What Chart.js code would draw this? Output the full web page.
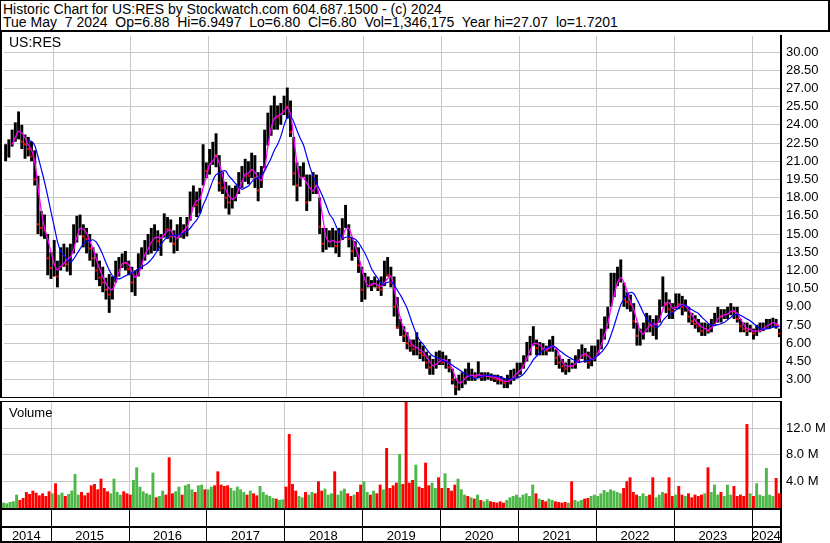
<!DOCTYPE html>
<html>
<head>
<meta charset="utf-8">
<script src="https://cdn.jsdelivr.net/npm/chart.js@4.4.1/dist/chart.umd.min.js"></script>
<style>
  body { margin: 0; background: #fff; }
  #wrap { position: relative; width: 830px; height: 543px; overflow: hidden; font-family: 'Liberation Sans', Arial, sans-serif; }
  #head { position: absolute; left: 0; top: 0; width: 830px; height: 32px; box-sizing: border-box;
          border-top: 1px solid #000; border-left: 1px solid #000; border-right: 2px solid #000; border-bottom: 2px solid #000;
          font-size: 14px; line-height: 13px; padding: 2px 0 0 2px; white-space: pre; z-index: 2; background: #fff; }
  canvas { position: absolute; left: 0; }
  .tag { position: absolute; z-index: 2; color: #000; }
</style>
</head>
<body>
<div id="wrap">
  <div id="head">Historic Chart for US:RES by Stockwatch.com 604.687.1500 - (c) 2024
Tue May  7 2024  Op=6.88  Hi=6.9497  Lo=6.80  Cl=6.80  Vol=1,346,175  Year hi=27.07  lo=1.7201</div>
  <canvas id="priceChart" width="830" height="369" style="top:32px"></canvas>
  <canvas id="volumeChart" width="830" height="142" style="top:401px"></canvas>
  <div class="tag" style="left:9px;top:34px;font-size:14px">US:RES</div>
  <div class="tag" style="left:9px;top:405px;font-size:13px">Volume</div>
</div>
<script>
// half-month periods, mid May 2014 .. early May 2024
const firstPeriod = 2014.375;
const lastPeriod = 2024.375;
const periodsPerYear = 24;

const yearTicks = [2015, 2016, 2017, 2018, 2019, 2020, 2021, 2022, 2023, 2024];
const yearLabels = ['2014', '2015', '2016', '2017', '2018', '2019', '2020', '2021', '2022', '2023', '2024'];
const priceTicks = [3, 4.5, 6, 7.5, 9, 10.5, 12, 13.5, 15, 16.5, 18, 19.5, 21, 22.5, 24, 25.5, 27, 28.5, 30];
const volumeTicks = [4, 8, 12];

const high = [
  22.4,22.8,23.6,24.2,25.1,24.0,23.2,23.0,22.6,21.9,19.8,16.9,16.6,15.0,13.5,
  14.5,12.8,13.9,14.2,13.9,14.2,15.8,16.5,16.6,15.8,15.5,15.0,13.9,13.4,12.8,12.3,11.4,11.7,11.5,12.8,13.1,13.4,13.6,12.8,
  12.3,12.0,13.4,13.9,14.5,15.0,15.5,15.8,15.3,15.0,16.7,16.4,16.2,15.3,15.8,16.4,15.8,16.4,18.5,19.0,18.5,18.8,22.4,20.9,
  22.0,22.6,23.3,21.5,20.1,19.3,19.0,18.8,19.0,20.1,20.6,21.2,21.0,21.7,21.5,20.1,20.6,23.6,25.0,25.6,26.4,25.6,25.8,26.4,
  27.07,26.0,23.0,20.9,20.6,20.9,19.9,19.9,20.1,19.9,18.0,15.5,15.5,15.3,15.5,15.3,15.5,16.3,17.4,15.8,14.7,14.4,13.9,12.3,
  11.8,11.5,11.2,11.5,11.2,11.5,12.8,13.1,12.3,11.5,9.8,8.0,7.4,6.9,6.3,6.3,6.9,6.1,5.8,5.3,5.0,4.7,5.3,5.4,
  5.3,5.0,4.7,3.9,3.1,3.4,3.6,3.9,4.4,3.9,3.6,4.5,3.6,3.6,3.6,3.5,3.4,3.4,3.3,3.1,3.4,3.8,3.9,4.4,
  4.4,5.0,6.1,6.6,7.4,6.3,6.1,6.0,5.8,6.3,6.6,5.5,5.0,4.7,4.4,4.7,4.4,5.0,5.5,5.9,5.6,5.3,5.8,5.8,
  6.3,7.2,8.2,9.0,11.8,11.8,12.3,12.9,11.0,10.2,10.0,9.3,7.7,7.2,7.7,8.5,8.3,8.0,8.3,9.6,11.5,10.2,9.6,9.3,
  10.1,10.1,9.9,9.6,9.0,8.5,8.3,8.0,7.7,7.7,7.6,8.0,8.5,9.0,8.8,8.8,9.0,9.3,9.0,9.0,8.0,7.7,7.7,7.5,
  7.2,7.5,7.7,7.7,8.0,8.0,8.1,8.0,7.2
];
const low = [
  21.0,21.3,22.2,22.6,22.8,22.0,21.2,21.4,21.0,19.0,15.0,14.8,14.6,11.6,11.3,
  11.5,10.6,12.0,12.3,11.9,11.6,13.4,14.3,14.9,13.9,13.4,12.8,12.3,11.2,10.7,10.2,9.6,8.5,9.6,11.0,11.5,12.2,12.0,11.6,
  10.2,9.9,11.5,12.1,12.8,13.3,13.4,13.6,13.6,13.2,14.7,14.6,14.3,13.4,13.6,14.7,14.6,14.8,16.1,17.2,16.4,16.7,19.0,19.6,
  19.9,20.7,20.5,18.5,18.3,17.1,16.6,17.1,17.7,18.3,18.8,19.3,19.1,19.6,18.8,17.7,18.8,20.4,22.3,23.1,23.6,23.6,24.0,24.8,
  24.5,23.0,19.0,17.7,18.9,19.7,16.9,17.7,18.3,18.3,15.0,13.5,13.7,13.9,13.9,13.4,13.1,14.5,15.5,13.9,12.8,13.1,11.8,9.4,
  9.6,10.6,10.3,10.6,10.3,9.9,10.7,11.5,10.6,8.2,7.2,6.6,6.1,5.5,5.3,5.0,5.0,4.7,4.5,3.9,3.4,3.4,3.9,4.2,
  4.2,3.9,3.6,2.6,1.72,2.1,2.3,2.6,2.9,2.9,2.9,3.1,2.9,2.9,3.0,2.9,2.8,2.6,2.6,2.3,2.3,2.6,2.9,3.1,
  3.4,3.9,4.5,5.0,5.8,5.0,5.0,5.0,5.0,5.3,5.3,4.2,3.9,3.6,3.4,3.6,3.9,3.9,4.4,4.7,4.4,3.9,4.1,4.5,
  5.0,5.5,6.3,7.2,9.0,9.8,10.7,11.0,9.0,8.8,8.6,7.2,5.8,5.8,6.3,6.9,6.9,6.6,6.3,7.7,9.0,8.5,8.0,8.0,
  8.8,8.8,8.3,8.6,7.7,7.5,7.2,6.9,6.6,6.6,6.8,6.9,7.5,7.7,7.7,8.0,8.0,8.3,8.0,7.7,6.9,6.9,6.6,6.9,
  6.3,6.6,6.9,7.0,7.2,7.2,7.3,7.2,6.5
];
const close = [
  21.8,22.3,23.0,23.6,23.8,22.6,22.4,22.0,21.4,19.5,15.8,15.5,15.3,13.0,12.2,
  12.4,11.5,13.0,13.2,12.5,13.6,15.0,15.6,15.8,14.8,14.6,13.8,13.0,12.0,11.4,11.0,10.4,10.0,10.8,12.2,12.6,12.8,12.6,12.1,
  11.0,11.2,12.8,13.2,13.9,14.2,14.8,15.0,14.4,14.6,15.8,15.4,14.8,14.2,15.0,15.6,15.2,16.0,17.6,18.2,17.4,18.0,21.0,20.2,
  21.0,21.8,21.5,19.2,18.8,18.0,17.6,18.0,18.4,19.6,19.8,20.4,19.8,20.8,19.6,18.6,20.0,22.6,24.0,24.6,25.0,24.6,25.0,25.8,
  25.5,23.4,20.0,19.0,19.8,20.2,17.6,18.6,19.4,19.0,15.6,14.2,14.4,14.4,14.6,14.0,14.4,15.6,16.2,14.6,13.6,13.6,12.4,10.4,
  10.8,11.0,10.8,11.0,10.6,10.4,12.0,11.6,11.0,9.0,7.3,7.6,6.6,6.0,5.8,5.5,5.6,5.2,5.0,4.4,4.0,4.0,4.8,4.7,
  4.4,4.6,4.0,3.0,2.4,2.8,3.2,3.4,3.3,3.4,3.2,3.6,3.2,3.3,3.3,3.2,3.1,3.0,2.9,2.7,2.9,3.3,3.5,3.8,
  4.0,4.6,5.6,5.9,6.4,5.6,5.6,5.5,5.4,5.9,6.0,4.8,4.4,4.1,3.9,4.3,4.1,4.6,5.0,5.4,5.0,4.4,4.6,5.2,
  5.8,6.6,7.6,8.6,10.6,10.8,11.6,11.8,9.6,9.4,9.2,7.8,6.6,6.6,7.0,7.8,7.6,7.4,7.6,8.8,10.0,9.2,8.8,8.6,
  9.4,9.2,9.0,9.0,8.2,7.8,7.6,7.4,7.0,7.2,7.0,7.6,8.0,8.4,8.2,8.4,8.6,8.8,8.6,8.0,7.4,7.2,7.0,7.2,
  6.8,7.0,7.2,7.4,7.6,7.6,7.8,7.5,6.8
];
// volume in millions of shares
const volume = [
  0.8,0.7,0.9,1.0,2.0,1.2,1.5,2.4,2.1,2.6,2.3,1.9,2.2,1.8,2.5,
  2.2,3.7,2.0,2.3,1.8,2.1,2.6,5.1,2.0,2.4,1.9,2.3,3.4,3.6,2.8,4.4,3.0,2.5,2.2,4.4,2.4,2.0,2.5,2.2,
  2.0,4.2,6.1,3.2,2.5,2.2,2.0,5.3,1.6,1.8,2.6,2.0,7.6,2.2,2.5,3.2,2.0,3.4,3.6,2.8,2.4,3.4,3.5,2.8,
  2.8,3.2,3.4,5.5,3.5,3.3,3.4,3.0,2.6,3.2,2.8,2.4,2.0,2.6,2.2,1.9,3.3,2.4,2.0,1.8,1.5,1.4,1.2,1.3,
  3.2,11.1,3.6,2.6,1.8,1.6,2.4,2.0,2.4,2.2,4.0,2.6,2.9,2.0,2.2,5.5,2.0,2.6,2.9,2.2,1.8,2.0,2.4,3.5,
  4.0,2.4,2.0,2.6,2.2,3.5,2.8,9.0,3.0,3.4,3.8,8.1,3.6,16.0,3.8,4.2,6.5,3.2,3.0,6.8,3.4,3.8,3.0,4.6,
  3.0,5.2,3.0,2.6,3.5,4.4,2.8,2.0,1.8,1.6,1.4,2.0,1.2,1.0,1.3,1.0,0.9,0.8,1.0,0.8,1.2,1.6,1.8,2.0,
  1.6,2.0,2.2,1.8,3.5,2.2,1.4,1.2,1.0,1.4,1.2,1.0,0.9,0.8,0.9,0.8,4.0,1.2,1.0,1.2,1.4,1.5,1.8,2.0,
  1.8,2.2,2.7,2.4,2.8,2.6,2.4,2.2,3.0,4.0,4.6,2.4,2.0,1.8,2.2,1.8,2.0,4.6,1.6,2.0,2.4,2.2,4.6,1.8,
  2.0,3.3,2.0,1.8,2.2,1.6,2.0,1.8,2.0,2.2,6.1,2.4,3.5,2.0,2.4,1.8,3.5,2.0,3.3,1.8,2.0,1.8,12.6,2.2,
  1.8,3.7,2.0,1.8,6.0,2.0,1.8,4.5,2.2
];

const GRID = '#c8c8c8';
const UP = '#4db848';
const DOWN = '#ff0000';
const FONT = "'Liberation Sans', Arial, sans-serif";

// x position (fractional year) of each period's centre
const xs = close.map((_, i) => firstPeriod + (i + 0.5) / periodsPerYear);

function movingAverage(values, n) {
  return values.map((_, i) => {
    if (i < n - 1) return null;
    let sum = 0;
    for (let k = i - n + 1; k <= i; k++) sum += values[k];
    return sum / n;
  });
}

const fastMA = movingAverage(close, 3);
const slowMA = movingAverage(close, 8);
const isDown = close.map((c, i) => i > 0 && c < close[i - 1]);

// vertical year lines, under the data
const yearGrid = {
  id: 'yearGrid',
  beforeDatasetsDraw(chart) {
    const { ctx, chartArea: a, scales } = chart;
    ctx.save();
    ctx.fillStyle = GRID;
    yearTicks.forEach(y => {
      ctx.fillRect(Math.round(scales.x.getPixelForValue(y)), a.top, 1, a.bottom - a.top);
    });
    ctx.restore();
  }
};

// black frame lines around the price panel
const priceFrame = {
  id: 'priceFrame',
  afterDraw(chart) {
    const { ctx, chartArea: a } = chart;
    ctx.save();
    ctx.fillStyle = '#000';
    ctx.fillRect(0, 0, 2, a.bottom + 1);
    ctx.fillRect(0, a.bottom, a.right, 1);
    ctx.restore();
  }
};

// frame of the volume panel plus the year strip underneath
const dateStrip = {
  id: 'dateStrip',
  afterDraw(chart) {
    const { ctx, chartArea: a, scales } = chart;
    const x = scales.x;
    const h = chart.height;
    ctx.save();
    ctx.fillStyle = '#000';
    ctx.fillRect(0, 0, 2, h);
    ctx.fillRect(0, a.top - 1, a.right, 1);
    ctx.fillRect(0, a.bottom, a.right + 1, 2);
    ctx.fillRect(0, a.bottom + 18, a.right + 1, 2);
    ctx.fillRect(0, h - 2, a.right + 1, 2);
    ctx.fillRect(a.right - 1, a.bottom, 2, h - a.bottom);
    yearTicks.forEach(y => {
      ctx.fillRect(Math.round(x.getPixelForValue(y)), a.bottom + 2, 1, h - a.bottom - 4);
    });
    const edges = [firstPeriod, ...yearTicks, lastPeriod];
    ctx.font = '13px ' + FONT;
    ctx.textAlign = 'center';
    ctx.textBaseline = 'middle';
    yearLabels.forEach((label, i) => {
      const mid = (x.getPixelForValue(edges[i]) + x.getPixelForValue(edges[i + 1])) / 2;
      ctx.fillText(label, mid, a.bottom + 28);
    });
    ctx.restore();
  }
};

function makeXAxis() {
  return {
    type: 'linear',
    offset: false,
    min: firstPeriod,
    max: lastPeriod,
    afterFit: s => { s.height = 0; s.paddingLeft = 0; s.paddingRight = 0; },
    ticks: { display: false },
    grid: { display: false },
    border: { display: false }
  };
}

new Chart(document.getElementById('priceChart'), {
  type: 'bar',
  data: {
    datasets: [
      {
        type: 'line',
        data: xs.map((x, i) => ({ x, y: slowMA[i] })),
        borderColor: '#0000ff',
        borderWidth: 1.2,
        pointRadius: 0,
        tension: 0.2,
        order: 0
      },
      {
        type: 'line',
        data: xs.map((x, i) => ({ x, y: fastMA[i] })),
        borderColor: '#ff00ff',
        borderWidth: 1.3,
        pointRadius: 0,
        tension: 0.2,
        order: 1
      },
      {
        type: 'line',
        data: xs.map((x, i) => ({ x, y: isDown[i] ? close[i] : null })),
        showLine: false,
        pointStyle: 'rect',
        pointRadius: 1.5,
        pointBorderWidth: 0,
        pointBackgroundColor: DOWN,
        order: 2
      },
      {
        type: 'bar',
        data: xs.map((x, i) => ({ x, y: [low[i], high[i]] })),
        backgroundColor: '#000',
        barPercentage: 0.9,
        categoryPercentage: 1,
        order: 3
      }
    ]
  },
  options: {
    responsive: false,
    animation: false,
    layout: { padding: { left: 2, top: 0, right: 0, bottom: 2 } },
    plugins: { legend: { display: false }, tooltip: { enabled: false } },
    scales: {
      x: makeXAxis(),
      y: {
        position: 'right',
        min: 1.565,
        max: 31.32,
        afterBuildTicks: s => { s.ticks = priceTicks.map(v => ({ value: v })); },
        afterFit: s => { s.width = 49; s.paddingTop = 0; s.paddingBottom = 0; },
        ticks: {
          callback: v => v.toFixed(2),
          color: '#000',
          font: { family: FONT, size: 13 },
          padding: 5
        },
        grid: { color: GRID, drawTicks: false },
        border: { color: '#000', width: 2 }
      }
    }
  },
  plugins: [yearGrid, priceFrame]
});

new Chart(document.getElementById('volumeChart'), {
  type: 'bar',
  data: {
    datasets: [{
      data: xs.map((x, i) => ({ x, y: volume[i] })),
      backgroundColor: xs.map((_, i) => isDown[i] ? DOWN : UP),
      barPercentage: 0.9,
      categoryPercentage: 1
    }]
  },
  options: {
    responsive: false,
    animation: false,
    layout: { padding: { left: 2, top: 1, right: 0, bottom: 35 } },
    plugins: { legend: { display: false }, tooltip: { enabled: false } },
    scales: {
      x: makeXAxis(),
      y: {
        position: 'right',
        min: 0,
        max: 15.9,
        afterBuildTicks: s => { s.ticks = volumeTicks.map(v => ({ value: v })); },
        afterFit: s => { s.width = 49; s.paddingTop = 0; s.paddingBottom = 0; },
        ticks: {
          callback: v => v.toFixed(1) + ' M',
          color: '#000',
          font: { family: FONT, size: 13 },
          padding: 5
        },
        grid: { color: GRID, drawTicks: false },
        border: { color: '#000', width: 2 }
      }
    }
  },
  plugins: [yearGrid, dateStrip]
});
</script>
</body>
</html>
